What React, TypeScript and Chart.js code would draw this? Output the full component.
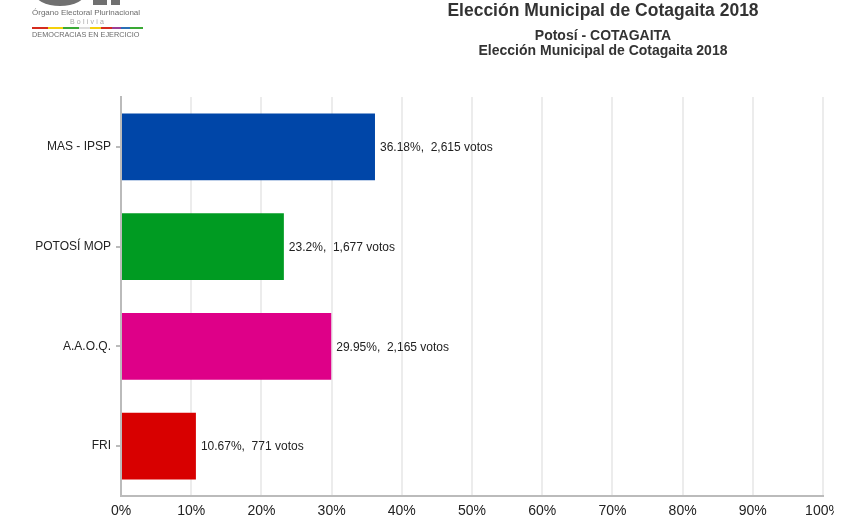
import React, { useEffect, useRef } from "react";
import { Chart, registerables } from "chart.js";

Chart.register(...registerables);

const categories = ["MAS - IPSP", "POTOSÍ MOP", "A.A.O.Q.", "FRI"];
const percentages = [36.18, 23.2, 29.95, 10.67];
const votes = [2615, 1677, 2165, 771];
const barColors = ["#0046A8", "#009B22", "#DE0088", "#D80000"];
const xTickValues = [0, 10, 20, 30, 40, 50, 60, 70, 80, 90, 100];

const FONT = "'Liberation Sans', Arial, Helvetica, sans-serif";

const valueLabelPlugin = {
  id: "valueLabels",
  afterDatasetsDraw(chart: any) {
    const ctx = chart.ctx;
    const meta = chart.getDatasetMeta(0);
    ctx.save();
    ctx.font = `12px ${FONT}`;
    ctx.fillStyle = "#222";
    ctx.textAlign = "left";
    ctx.textBaseline = "middle";
    meta.data.forEach((el: any, i: number) => {
      const text = `${percentages[i]}%,  ${votes[i].toLocaleString("en-US")} votos`;
      ctx.fillText(text, el.x + 5, el.y + 1);
    });
    ctx.restore();
  },
};

export default function App() {
  const ref = useRef<HTMLCanvasElement>(null);

  useEffect(() => {
    if (!ref.current) return;
    const chart = new Chart(ref.current, {
      type: "bar",
      data: {
        labels: categories,
        datasets: [
          {
            data: percentages,
            backgroundColor: barColors,
            borderWidth: 0,
            categoryPercentage: 1,
            barPercentage: 0.67,
          },
        ],
      },
      options: {
        indexAxis: "y",
        responsive: false,
        animation: false,
        layout: { padding: { top: 97, right: 26, left: 0, bottom: 0 } },
        plugins: {
          legend: { display: false },
          tooltip: { enabled: false },
          title: { display: false },
        },
        scales: {
          x: {
            type: "linear",
            min: 0,
            max: 100,
            afterBuildTicks: (s: any) => {
              s.ticks = xTickValues.map((v) => ({ value: v }));
            },
            afterFit: (s: any) => {
              s.height = 30;
            },
            ticks: {
              callback: (v: any) => `${v}%`,
              color: "#222",
              font: { family: FONT, size: 14 },
              padding: 7,
              maxRotation: 0,
              autoSkip: false,
            },
            grid: {
              color: "#ececec",
              lineWidth: 2,
              drawTicks: false,
            },
            border: { color: "#bbbbbb", width: 2 },
          },
          y: {
            afterFit: (s: any) => {
              s.width = 121;
            },
            ticks: {
              color: "#222",
              font: { family: FONT, size: 12 },
              padding: 5,
            },
            grid: {
              offset: false,
              drawOnChartArea: false,
              drawTicks: true,
              tickLength: 5,
              color: "#bbbbbb",
              lineWidth: 2,
            },
            border: { color: "#bbbbbb", width: 2 },
          },
        },
      },
      plugins: [valueLabelPlugin],
    });
    return () => chart.destroy();
  }, []);

  const colorStops =
    "linear-gradient(to right, #d52b1e 0%, #d52b1e 14%, #f4d00c 14%, #f4d00c 28%, #3aa935 28%, #3aa935 42%, #dddddd 42%, #dddddd 52%, #f4d00c 52%, #f4d00c 62%, #d52b1e 62%, #d52b1e 72%, #9b3e96 72%, #9b3e96 80%, #2a6fb5 80%, #2a6fb5 88%, #3aa935 88%, #3aa935 100%)";

  return (
    <div
      style={{
        position: "absolute",
        left: 0,
        top: 0,
        width: 849,
        height: 526,
        background: "#fff",
        fontFamily: FONT,
        overflow: "hidden",
      }}
    >
      <div style={{ position: "absolute", left: 0, top: 0, width: 834, height: 526, overflow: "hidden" }}>
        <canvas ref={ref} width={849} height={526} style={{ width: 849, height: 526, display: "block" }} />
      </div>

      {/* Logo */}
      <div style={{ position: "absolute", left: 34, top: -22, width: 52, height: 28, borderRadius: "50%", background: "#707070" }} />
      <div style={{ position: "absolute", left: 93, top: 0, width: 14, height: 5, background: "#707070" }} />
      <div style={{ position: "absolute", left: 111, top: 0, width: 9, height: 5, background: "#707070" }} />
      <div style={{ position: "absolute", left: 32, top: 8, fontSize: 8, color: "#6b6b6b", whiteSpace: "nowrap", lineHeight: "10px" }}>
        Órgano Electoral Plurinacional
      </div>
      <div style={{ position: "absolute", left: 70, top: 18, fontSize: 7, color: "#a8a8a8", letterSpacing: 2.2, whiteSpace: "nowrap", lineHeight: "8px" }}>
        Bolivia
      </div>
      <div style={{ position: "absolute", left: 32, top: 27, width: 111, height: 2, background: colorStops }} />
      <div style={{ position: "absolute", left: 32, top: 30, fontSize: 7.3, color: "#6b6b6b", whiteSpace: "nowrap", lineHeight: "10px" }}>
        DEMOCRACIAS EN EJERCICIO
      </div>

      {/* Titles */}
      <div style={{ position: "absolute", left: 403, width: 400, top: 0, textAlign: "center", fontSize: 17.5, fontWeight: "bold", color: "#333", lineHeight: "20px", whiteSpace: "nowrap" }}>
        Elección Municipal de Cotagaita 2018
      </div>
      <div style={{ position: "absolute", left: 403, width: 400, top: 28, textAlign: "center", fontSize: 14, fontWeight: "bold", color: "#333", lineHeight: "15px", whiteSpace: "nowrap" }}>
        Potosí - COTAGAITA
        <br />
        Elección Municipal de Cotagaita 2018
      </div>
    </div>
  );
}
